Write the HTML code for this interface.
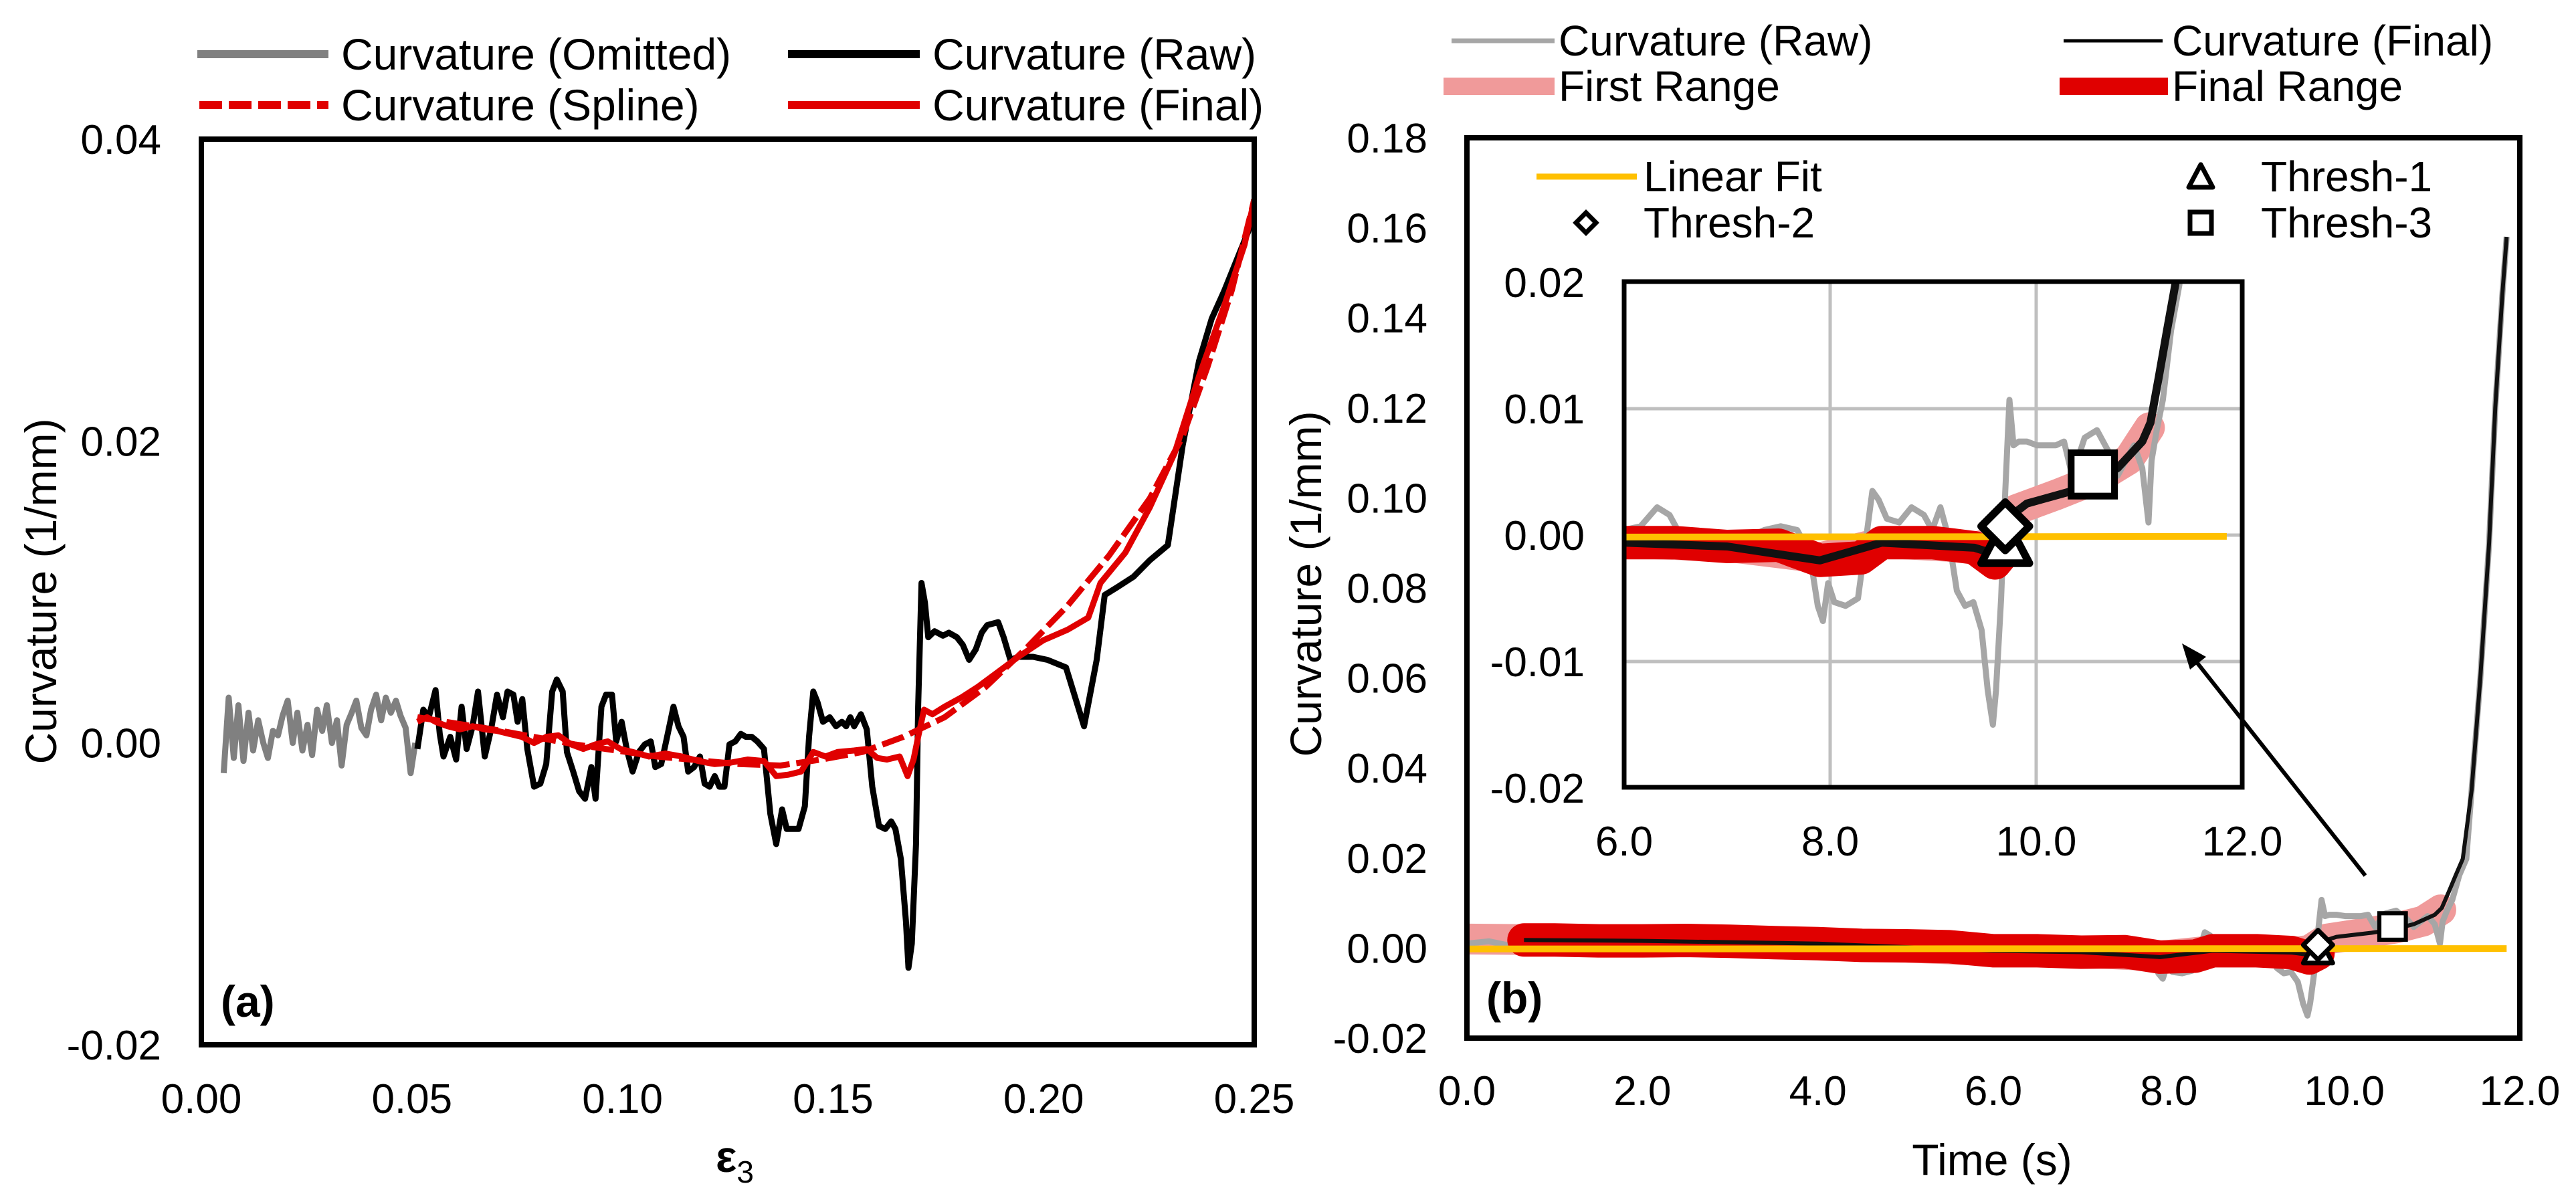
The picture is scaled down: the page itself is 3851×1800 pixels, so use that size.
<!DOCTYPE html>
<html><head><meta charset="utf-8"><style>
html,body{margin:0;padding:0;background:#fff;}
svg{display:block;font-family:"Liberation Sans",Arial,sans-serif;}
</style></head><body>
<svg id="chart" width="3851" height="1800" viewBox="0 0 3851 1800" xmlns="http://www.w3.org/2000/svg">
<g id="pa"></g>
<g id="pb"></g>
</svg>
<script>
// ---------- Panel (a) data ----------
const aXTicks = [0.00,0.05,0.10,0.15,0.20,0.25];
const aXTickLabels = ["0.00","0.05","0.10","0.15","0.20","0.25"];
const aYTicks = [0.04,0.02,0.00,-0.02];
const aYTickLabels = ["0.04","0.02","0.00","-0.02"];
const omitX = [0.0053,0.0065,0.0077,0.0088,0.0100,0.0112,0.0123,0.0135,0.0147,0.0158,0.0170,0.0182,0.0193,0.0205,0.0217,0.0228,0.0240,0.0252,0.0263,0.0275,0.0287,0.0298,0.0310,0.0322,0.0333,0.0345,0.0357,0.0368,0.0380,0.0392,0.0403,0.0415,0.0427,0.0438,0.0450,0.0462,0.0473,0.0485,0.0497,0.0508];
const omitY = [-0.0020,0.0030,-0.0010,0.0025,-0.0012,0.0020,-0.0005,0.0015,0.0000,-0.0010,0.0008,0.0005,0.0018,0.0028,0.0000,0.0020,-0.0005,0.0012,-0.0008,0.0022,0.0008,0.0025,0.0000,0.0015,-0.0015,0.0012,0.0020,0.0028,0.0010,0.0005,0.0022,0.0032,0.0015,0.0030,0.0020,0.0028,0.0018,0.0010,-0.0020,0.0000];
const rawX = [0.0513,0.0527,0.0540,0.0556,0.0566,0.0575,0.0591,0.0605,0.0618,0.0630,0.0644,0.0657,0.0673,0.0688,0.0702,0.0716,0.0727,0.0741,0.0751,0.0762,0.0774,0.0790,0.0805,0.0819,0.0833,0.0844,0.0858,0.0868,0.0883,0.0897,0.0911,0.0926,0.0936,0.0950,0.0961,0.0975,0.0985,0.0998,0.1010,0.1024,0.1039,0.1053,0.1067,0.1078,0.1092,0.1106,0.1121,0.1133,0.1145,0.1156,0.1170,0.1184,0.1195,0.1207,0.1219,0.1230,0.1242,0.1254,0.1268,0.1281,0.1293,0.1307,0.1320,0.1336,0.1351,0.1365,0.1379,0.1390,0.1404,0.1418,0.1433,0.1443,0.1453,0.1463,0.1476,0.1492,0.1507,0.1521,0.1531,0.1541,0.1550,0.1566,0.1580,0.1593,0.1609,0.1624,0.1638,0.1648,0.1661,0.1673,0.1679,0.1687,0.1697,0.1702,0.1710,0.1718,0.1726,0.1741,0.1761,0.1775,0.1794,0.1808,0.1823,0.1839,0.1853,0.1866,0.1892,0.1905,0.1921,0.1940,0.1975,0.2009,0.2053,0.2096,0.2126,0.2145,0.2174,0.2213,0.2252,0.2295,0.2330,0.2369,0.2399,0.2428,0.2457,0.2486,0.2500];
const rawY = [-0.0004,0.0022,0.0017,0.0035,0.0006,-0.0009,0.0004,-0.0011,0.0024,-0.0004,0.0011,0.0034,-0.0009,0.0009,0.0032,0.0017,0.0034,0.0032,0.0014,0.0029,-0.0004,-0.0029,-0.0027,-0.0014,0.0034,0.0042,0.0034,-0.0006,-0.0019,-0.0032,-0.0037,-0.0016,-0.0037,0.0024,0.0032,0.0032,0.0001,0.0014,-0.0004,-0.0019,-0.0006,-0.0001,0.0001,-0.0016,-0.0014,0.0004,0.0024,0.0011,0.0004,-0.0019,-0.0016,-0.0009,-0.0027,-0.0029,-0.0022,-0.0029,-0.0029,-0.0001,0.0001,0.0006,0.0004,0.0004,0.0001,-0.0004,-0.0047,-0.0067,-0.0044,-0.0057,-0.0057,-0.0057,-0.0042,0.0004,0.0034,0.0027,0.0014,0.0017,0.0011,0.0014,0.0011,0.0017,0.0011,0.0019,0.0009,-0.0029,-0.0055,-0.0057,-0.0052,-0.0057,-0.0077,-0.0118,-0.0149,-0.0133,-0.0067,0.0024,0.0106,0.0093,0.0070,0.0074,0.0071,0.0073,0.0070,0.0065,0.0055,0.0062,0.0073,0.0078,0.0080,0.0070,0.0055,0.0057,0.0057,0.0055,0.0050,0.0011,0.0055,0.0098,0.0103,0.0110,0.0121,0.0131,0.0197,0.0253,0.0281,0.0299,0.0319,0.0339,0.0360];
const finalX = [0.0513,0.0536,0.0556,0.0585,0.0614,0.0644,0.0673,0.0702,0.0731,0.0761,0.0790,0.0819,0.0848,0.0878,0.0907,0.0936,0.0965,0.0995,0.1024,0.1063,0.1102,0.1141,0.1180,0.1219,0.1258,0.1297,0.1336,0.1365,0.1394,0.1424,0.1453,0.1482,0.1511,0.1550,0.1580,0.1605,0.1628,0.1658,0.1677,0.1691,0.1702,0.1716,0.1736,0.1765,0.1804,0.1843,0.1882,0.1940,0.1999,0.2057,0.2106,0.2135,0.2194,0.2252,0.2311,0.2369,0.2428,0.2477,0.2500];
const finalY = [0.0014,0.0017,0.0014,0.0011,0.0009,0.0011,0.0009,0.0008,0.0006,0.0004,0.0000,0.0004,0.0005,-0.0001,-0.0004,-0.0001,0.0001,-0.0004,-0.0006,-0.0009,-0.0007,-0.0009,-0.0012,-0.0014,-0.0013,-0.0011,-0.0012,-0.0022,-0.0021,-0.0019,-0.0006,-0.0009,-0.0006,-0.0005,-0.0004,-0.0010,-0.0011,-0.0009,-0.0022,-0.0011,0.0004,0.0022,0.0019,0.0024,0.0030,0.0037,0.0045,0.0057,0.0068,0.0075,0.0083,0.0106,0.0126,0.0156,0.0192,0.0243,0.0289,0.0330,0.0360];
const splineX = [0.0513,0.0692,0.0887,0.1082,0.1277,0.1375,0.1472,0.1570,0.1667,0.1765,0.1862,0.1960,0.2057,0.2155,0.2252,0.2330,0.2389,0.2447,0.2500];
const splineY = [0.0017,0.0009,-0.0001,-0.0009,-0.0014,-0.0015,-0.0011,-0.0006,0.0004,0.0017,0.0037,0.0063,0.0091,0.0124,0.0162,0.0203,0.0249,0.0300,0.0360];

// ---------- Panel (b) data ----------
const bXTicks = [0,2,4,6,8,10,12];
const bXTickLabels = ["0.0","2.0","4.0","6.0","8.0","10.0","12.0"];
const bYTicks = [0.18,0.16,0.14,0.12,0.10,0.08,0.06,0.04,0.02,0.00,-0.02];
const bYTickLabels = ["0.18","0.16","0.14","0.12","0.10","0.08","0.06","0.04","0.02","0.00","-0.02"];
const iXTicks = [6,8,10,12];
const iXTickLabels = ["6.0","8.0","10.0","12.0"];
const iYTicks = [0.02,0.01,0.00,-0.01,-0.02];
const iYTickLabels = ["0.02","0.01","0.00","-0.01","-0.02"];
const bRawT = [0,0.25,0.5,0.75,1,1.25,1.5,1.75,2,2.25,2.5,2.75,3,3.25,3.5,3.75,4,4.25,4.5,4.75,5,5.25,5.5,5.75,6.00,6.16,6.32,6.44,6.56,6.72,6.88,7.04,7.20,7.36,7.52,7.68,7.80,7.88,7.93,7.98,8.04,8.15,8.27,8.35,8.41,8.47,8.55,8.67,8.79,8.91,8.99,9.07,9.15,9.23,9.31,9.39,9.47,9.53,9.58,9.61,9.66,9.70,9.74,9.78,9.83,9.91,10.01,10.11,10.19,10.27,10.35,10.47,10.59,10.71,10.79,10.87,10.95,11.03,11.09,11.12,11.17,11.23,11.31,11.39,11.45,11.55,11.65,11.72,11.80,11.85];
const bRawV = [0.0010,0.0015,0.0005,0.0020,0.0012,0.0018,0.0008,0.0015,0.0020,0.0010,0.0017,0.0022,0.0005,0.0012,0.0018,0.0008,0.0015,0.0004,0.0012,0.0018,0.0006,0.0010,0.0003,0.0008,0.0004,0.0007,0.0022,0.0016,-0.0002,-0.0005,-0.0011,-0.0008,-0.0002,0.0004,0.0007,0.0004,-0.0014,-0.0056,-0.0068,-0.0038,-0.0053,-0.0056,-0.0050,-0.0002,0.0035,0.0028,0.0013,0.0010,0.0022,0.0016,0.0004,0.0022,-0.0002,-0.0044,-0.0056,-0.0053,-0.0075,-0.0123,-0.0150,-0.0123,-0.0050,0.0035,0.0107,0.0071,0.0074,0.0074,0.0071,0.0071,0.0071,0.0074,0.0047,0.0077,0.0083,0.0065,0.0047,0.0059,0.0071,0.0053,0.0010,0.0059,0.0083,0.0107,0.0162,0.0198,0.0350,0.0600,0.0900,0.1200,0.1450,0.1580];
const bFinalT = [0.65,2.0,4.0,6.0,7.0,7.9,8.5,9.4,9.60,9.67,9.91,10.31,10.55,10.79,11.03,11.11,11.19,11.27,11.35,11.45,11.55,11.65,11.72,11.80,11.85];
const bFinalV = [0.0018,0.0016,0.0010,-0.0006,-0.0009,-0.0020,-0.0006,-0.0010,-0.0015,0.0010,0.0025,0.0034,0.0041,0.0053,0.0074,0.0089,0.0125,0.0162,0.0198,0.0350,0.0600,0.0900,0.1200,0.1450,0.1580];
const firstRangeT = [0,0.65,2.0,4.0,6.0,7.0,7.9,8.5,9.4,9.60,9.80,10.20,10.60,10.90,11.10];
const firstRangeV = [0.0020,0.0019,0.0016,0.0010,-0.0006,-0.0009,-0.0018,-0.0006,-0.0010,-0.0005,0.0020,0.0032,0.0045,0.0060,0.0085];
const finalRangeT = [0.65,1.0,1.5,2.0,2.5,3.0,3.5,4.0,4.5,5.0,5.5,6.0,6.5,7.0,7.5,7.9,8.3,8.5,9.0,9.4,9.6,9.7];
const finalRangeV = [0.0018,0.0018,0.0016,0.0016,0.0017,0.0015,0.0012,0.0010,0.0006,0.0005,0.0003,-0.0006,-0.0006,-0.0009,-0.0008,-0.0020,-0.0018,-0.0006,-0.0006,-0.0010,-0.0022,-0.0012];
const fitT = [0,11.85];
const fitV = [-0.0002,-0.0001];
const thresh1 = [9.70,-0.0007];
const thresh2 = [9.70,0.0007];
const thresh3 = [10.55,0.0048];

// ---------- helpers ----------
const NS="http://www.w3.org/2000/svg";
function mk(parent,tag,attrs,text){const e=document.createElementNS(NS,tag);for(const k in attrs)e.setAttribute(k,attrs[k]);if(text!==undefined)e.textContent=text;parent.appendChild(e);return e;}
function pathD(xs,ys,fx,fy){return xs.map((v,i)=>(i?"L":"M")+fx(v).toFixed(1)+","+fy(ys[i]).toFixed(1)).join(" ");}

// ---------- Panel (a) ----------
const pa=document.getElementById('pa');
const ax=v=>301+v/0.25*1574;
const ay=v=>1562-(v+0.02)/0.06*1354;
let el;
el=mk(pa,'defs',{});
const clipA=mk(el,'clipPath',{id:'clipA'});mk(clipA,'rect',{x:301,y:208,width:1574,height:1354});
aYTicks.forEach((v,i)=>{el=mk(pa,'text',{x:241,y:ay(v)+22,'text-anchor':'end','font-size':62},aYTickLabels[i]);

});
aXTicks.forEach((v,i)=>{el=mk(pa,'text',{x:ax(v),y:1664,'text-anchor':'middle','font-size':62},aXTickLabels[i]);

});
const ga=mk(pa,'g',{'clip-path':'url(#clipA)'});
el=mk(ga,'path',{d:pathD(omitX,omitY,ax,ay),fill:'none',stroke:'#808080','stroke-width':9,'stroke-linejoin':'round'});


el=mk(ga,'path',{d:pathD(rawX,rawY,ax,ay),fill:'none',stroke:'#000','stroke-width':9,'stroke-linejoin':'round'});


el=mk(ga,'path',{d:pathD(finalX,finalY,ax,ay),fill:'none',stroke:'#e00000','stroke-width':9,'stroke-linejoin':'round'});


el=mk(ga,'path',{d:pathD(splineX,splineY,ax,ay),fill:'none',stroke:'#e00000','stroke-width':9,'stroke-dasharray':'34,10'});


el=mk(pa,'rect',{x:301,y:208,width:1574,height:1354,fill:'none',stroke:'#000','stroke-width':8});


el=mk(pa,'text',{x:330,y:1520,'font-size':66,'font-weight':'bold'},'(a)');


el=mk(pa,'text',{x:0,y:0,'font-size':66,'text-anchor':'middle',transform:'translate(84,884) rotate(-90)'},'Curvature (1/mm)');


el=mk(pa,'text',{x:1070,y:1752,'font-size':66,'font-weight':'bold'},'ε');


mk(el,'tspan',{'font-size':46,'font-weight':'normal',dy:16},'3');
// legend a
const legA=[
 {x1:295,x2:491,y:81,c:'#808080',dash:null,t:'Curvature (Omitted)',tx:510,n:'legend-omitted'},
 {x1:1178,x2:1375,y:81,c:'#000',dash:null,t:'Curvature (Raw)',tx:1394,n:'legend-raw'},
 {x1:298,x2:491,y:157,c:'#e00000',dash:'34,10',t:'Curvature (Spline)',tx:510,n:'legend-spline'},
 {x1:1178,x2:1375,y:157,c:'#e00000',dash:null,t:'Curvature (Final)',tx:1394,n:'legend-final'}];
legA.forEach(l=>{const g=mk(pa,'g',{});


const a={x1:l.x1,x2:l.x2,y1:l.y,y2:l.y,stroke:l.c,'stroke-width':12};if(l.dash)a['stroke-dasharray']=l.dash;mk(g,'line',a);
mk(g,'text',{x:l.tx,y:l.y+23,'font-size':66},l.t);});

// ---------- Panel (b) ----------
const pb=document.getElementById('pb');
const bx=t=>2193+t/12*1574;
const by=v=>1552-(v+0.02)/0.2*1346;
const ix=t=>2428+(t-6)/6*924;
const iy=v=>800-v/0.01*189;
el=mk(pb,'defs',{});
const cB=mk(el,'clipPath',{id:'clipB'});mk(cB,'rect',{x:2193,y:206,width:1574,height:1346});
const cI=mk(el,'clipPath',{id:'clipI'});mk(cI,'rect',{x:2428,y:421,width:924,height:756});
bYTicks.forEach((v,i)=>{el=mk(pb,'text',{x:2134,y:by(v)+22,'text-anchor':'end','font-size':62},bYTickLabels[i]);

});
bXTicks.forEach((v,i)=>{el=mk(pb,'text',{x:bx(v),y:1652,'text-anchor':'middle','font-size':62},bXTickLabels[i]);

});
function drawSeries(g,fx,fy,pre){
 let e;
 e=mk(g,'path',{d:pathD(firstRangeT,firstRangeV,fx,fy),fill:'none',stroke:'#f09a9a','stroke-width':46,'stroke-linejoin':'round','stroke-linecap':'round'});
 
 
 e=mk(g,'path',{d:pathD(bRawT,bRawV,fx,fy),fill:'none',stroke:'#a6a6a6','stroke-width':9,'stroke-linejoin':'round'});
 
 
 e=mk(g,'path',{d:pathD(finalRangeT,finalRangeV,fx,fy),fill:'none',stroke:'#e00000','stroke-width':50,'stroke-linejoin':'round','stroke-linecap':'round'});
 
 
 e=mk(g,'path',{d:pathD(bFinalT,bFinalV,fx,fy),fill:'none',stroke:'#111','stroke-width':pre?12:6,'stroke-linejoin':'round'});
 
 
 e=mk(g,'path',{d:pathD(fitT,fitV,fx,fy),fill:'none',stroke:'#ffc000','stroke-width':10});
 
 
}
function markers(g,fx,fy,s,pre){
 let e,x,y;
 x=fx(thresh1[0]);y=fy(thresh1[1]);
 e=mk(g,'polygon',{points:`${x},${y-s*0.55} ${x-s*0.5},${y+s*0.4} ${x+s*0.5},${y+s*0.4}`,fill:'#fff',stroke:'#000','stroke-width':s*0.16,'stroke-linejoin':'round'});
 
 
 x=fx(thresh2[0]);y=fy(thresh2[1]);
 e=mk(g,'polygon',{points:`${x},${y-s*0.5} ${x+s*0.5},${y} ${x},${y+s*0.5} ${x-s*0.5},${y}`,fill:'#fff',stroke:'#000','stroke-width':s*0.16,'stroke-linejoin':'round'});
 
 
 x=fx(thresh3[0]);y=fy(thresh3[1]);
 e=mk(g,'rect',{x:x-s*0.45,y:y-s*0.45,width:s*0.9,height:s*0.9,fill:'#fff',stroke:'#000','stroke-width':s*0.14});
 
 
}
const gb=mk(pb,'g',{'clip-path':'url(#clipB)'});
drawSeries(gb,bx,by,'');
markers(gb,bx,by,44,'');
el=mk(pb,'rect',{x:2193,y:206,width:1574,height:1346,fill:'none',stroke:'#000','stroke-width':8});


// inset
el=mk(pb,'rect',{x:2428,y:421,width:924,height:756,fill:'#fff'});


[8,10].forEach(t=>{el=mk(pb,'line',{x1:ix(t),x2:ix(t),y1:421,y2:1177,stroke:'#bfbfbf','stroke-width':5});

});
[0.01,0,-0.01].forEach(v=>{el=mk(pb,'line',{x1:2428,x2:3352,y1:iy(v),y2:iy(v),stroke:'#bfbfbf','stroke-width':5});

});
const gi=mk(pb,'g',{'clip-path':'url(#clipI)'});
drawSeries(gi,ix,iy,'inset-');
markers(gi,ix,iy,72,'inset-');
el=mk(pb,'rect',{x:2428,y:421,width:924,height:756,fill:'none',stroke:'#000','stroke-width':7});


iYTicks.forEach((v,i)=>{el=mk(pb,'text',{x:2369,y:iy(v)+22,'text-anchor':'end','font-size':62},iYTickLabels[i]);

});
iXTicks.forEach((v,i)=>{el=mk(pb,'text',{x:ix(v),y:1279,'text-anchor':'middle','font-size':62},iXTickLabels[i]);

});
// arrow
el=mk(pb,'line',{x1:3536,y1:1309,x2:3280,y2:985,stroke:'#000','stroke-width':6});


el=mk(pb,'polygon',{points:'3262,962 3298,982 3274,1001',fill:'#000'});


el=mk(pb,'text',{x:2222,y:1515,'font-size':66,'font-weight':'bold'},'(b)');


el=mk(pb,'text',{x:0,y:0,'font-size':66,'text-anchor':'middle',transform:'translate(1975,873) rotate(-90)'},'Curvature (1/mm)');


el=mk(pb,'text',{x:2978,y:1757,'font-size':66,'text-anchor':'middle'},'Time (s)');


// legend b (outside)
const legB=[
 {x1:2170,x2:2324,y:61,c:'#a6a6a6',w:7,t:'Curvature (Raw)',tx:2330,n:'legend-raw-b'},
 {x1:3085,x2:3233,y:61,c:'#000',w:5,t:'Curvature (Final)',tx:3247,n:'legend-final-b'},
 {x1:2158,x2:2324,y:129,c:'#f09a9a',w:26,t:'First Range',tx:2330,n:'legend-first-range'},
 {x1:3079,x2:3241,y:129,c:'#e00000',w:26,t:'Final Range',tx:3247,n:'legend-final-range'},
 {x1:2297,x2:2447,y:264,c:'#ffc000',w:9,t:'Linear Fit',tx:2457,n:'legend-linear-fit'}];
legB.forEach(l=>{const g=mk(pb,'g',{});


mk(g,'line',{x1:l.x1,x2:l.x2,y1:l.y,y2:l.y,stroke:l.c,'stroke-width':l.w});
mk(g,'text',{x:l.tx,y:l.y+22,'font-size':64},l.t);});
const lm=mk(pb,'g',{});


mk(lm,'polygon',{points:'3290,246 3272,280 3308,280',fill:'#fff',stroke:'#000','stroke-width':7,'stroke-linejoin':'round'});
mk(lm,'text',{x:3380,y:286,'font-size':64},'Thresh-1');
mk(lm,'polygon',{points:'2371,318 2386,333 2371,348 2356,333',fill:'#fff',stroke:'#000','stroke-width':7});
mk(lm,'text',{x:2457,y:355,'font-size':64},'Thresh-2');
mk(lm,'rect',{x:3274,y:317,width:32,height:32,fill:'#fff',stroke:'#000','stroke-width':7});
mk(lm,'text',{x:3380,y:355,'font-size':64},'Thresh-3');
</script>
</body></html>
